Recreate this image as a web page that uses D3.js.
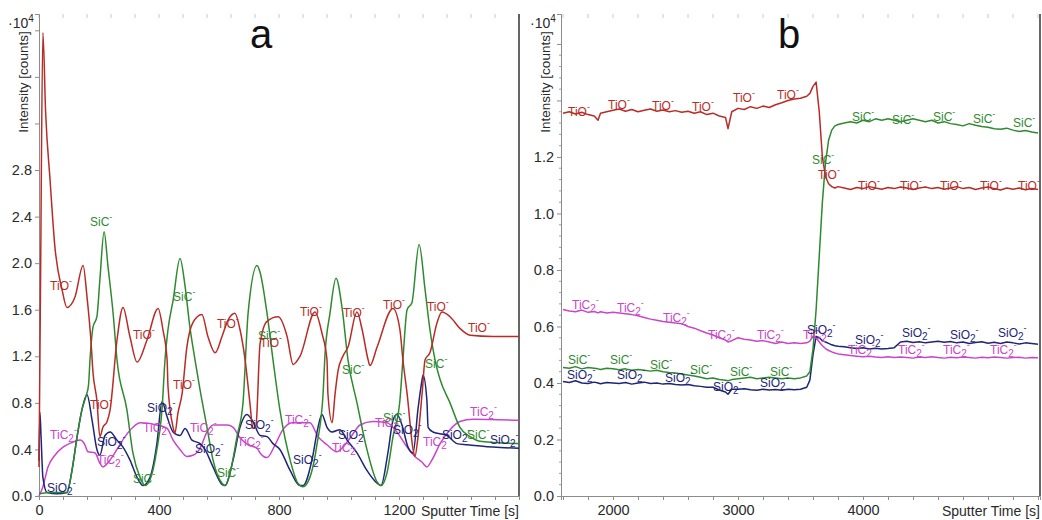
<!DOCTYPE html>
<html>
<head>
<meta charset="utf-8">
<script src="https://cdn.jsdelivr.net/npm/d3@7"></script>
<style>
  body { margin: 0; background: #fff; }
  svg { display: block; }
  text { font-family: Arial, "Liberation Sans", sans-serif; }
</style>
</head>
<body>
<svg id="chart" width="1042" height="520"></svg>
<script>
// ---------- Panel a: depth profile 0–1600 s (intensity in 10^4 counts) ----------
const tioA = [[0,0.25],[5,1.8],[13,3.98],[22,3.3],[37,2.71],[53,2.14],[77,1.77],[93,1.62],[120,1.71],[147,1.98],[160,1.71],[173,1.34],[180,1.06],[193,0.82],[203,0.51],[213,0.59],[227,0.64],[237,0.74],[260,1.34],[280,1.62],[303,1.37],[327,1.15],[360,1.34],[397,1.61],[413,1.43],[427,1.17],[430,0.94],[447,0.59],[453,0.54],[463,0.71],[477,0.88],[493,1.28],[513,1.49],[543,1.56],[563,1.37],[587,1.23],[610,1.37],[630,1.51],[653,1.57],[670,1.43],[687,1.17],[703,0.8],[713,0.58],[723,0.6],[737,1.31],[760,1.5],[797,1.54],[827,1.37],[847,1.13],[870,1.2],[920,1.58],[943,1.40],[960,1.17],[963,0.88],[977,0.63],[987,0.88],[997,1.08],[1013,1.2],[1030,1.28],[1060,1.58],[1077,1.43],[1097,1.17],[1103,1.12],[1127,1.28],[1180,1.61],[1203,1.43],[1213,1.17],[1227,0.88],[1247,0.40],[1253,0.34],[1263,0.5],[1277,0.88],[1287,1.17],[1303,1.23],[1327,1.49],[1343,1.58],[1370,1.54],[1403,1.44],[1437,1.38],[1513,1.37],[1600,1.37]];
const sicA = [[0,0.02],[40,0.03],[93,0.03],[110,0.22],[127,0.51],[143,0.74],[157,0.86],[165,0.95],[170,1.17],[180,1.45],[193,1.54],[203,1.86],[217,2.27],[230,1.97],[247,1.57],[260,1.17],[293,0.74],[313,0.37],[337,0.16],[353,0.09],[370,0.14],[393,0.40],[410,0.74],[420,1.17],[430,1.43],[447,1.68],[470,2.04],[487,1.80],[503,1.45],[520,1.17],[537,0.91],[560,0.59],[580,0.31],[610,0.11],[620,0.09],[637,0.2],[660,0.51],[680,0.80],[697,1.57],[727,1.98],[737,1.92],[760,1.57],[780,1.17],[803,0.74],[837,0.31],[863,0.11],[880,0.08],[903,0.16],[927,0.45],[947,0.88],[953,1.2],[970,1.57],[990,1.87],[1010,1.62],[1030,1.17],[1060,0.80],[1093,0.40],[1127,0.12],[1140,0.09],[1160,0.2],[1180,0.51],[1203,0.82],[1213,1.17],[1227,1.60],[1243,1.66],[1267,2.16],[1287,1.77],[1303,1.43],[1320,1.17],[1337,1.0],[1370,0.80],[1403,0.59],[1437,0.51],[1470,0.47],[1520,0.46],[1600,0.45]];
const sio2A = [[0,0.3],[3,0.72],[7,0.5],[13,0.16],[27,0.03],[60,0.02],[93,0.03],[110,0.22],[127,0.51],[143,0.74],[160,0.87],[177,0.65],[193,0.40],[203,0.35],[220,0.52],[237,0.55],[260,0.48],[280,0.42],[303,0.31],[327,0.16],[347,0.09],[370,0.16],[393,0.45],[410,0.81],[427,0.68],[447,0.55],[470,0.52],[487,0.58],[510,0.48],[537,0.45],[553,0.40],[580,0.25],[610,0.10],[620,0.09],[647,0.31],[670,0.59],[693,0.70],[713,0.64],[737,0.52],[760,0.51],[780,0.45],[803,0.40],[837,0.22],[870,0.09],[880,0.09],[910,0.31],[930,0.59],[943,0.70],[960,0.59],[977,0.55],[1003,0.57],[1027,0.48],[1060,0.37],[1093,0.22],[1127,0.11],[1140,0.09],[1163,0.37],[1180,0.65],[1193,0.70],[1210,0.61],[1230,0.42],[1247,0.37],[1263,0.74],[1277,1.0],[1280,1.04],[1293,0.82],[1297,0.59],[1313,0.55],[1360,0.52],[1393,0.45],[1427,0.44],[1513,0.42],[1600,0.41]];
const tic2A = [[0,0.0],[13,0.08],[30,0.25],[53,0.35],[80,0.42],[110,0.46],[137,0.48],[153,0.44],[163,0.38],[187,0.37],[203,0.28],[213,0.25],[237,0.31],[260,0.40],[287,0.51],[313,0.59],[337,0.63],[393,0.61],[427,0.58],[447,0.48],[470,0.40],[493,0.34],[513,0.35],[537,0.41],[560,0.55],[580,0.61],[627,0.61],[647,0.59],[670,0.50],[697,0.44],[727,0.41],[737,0.37],[760,0.33],[787,0.44],[813,0.57],[843,0.63],[903,0.63],[930,0.51],[960,0.44],[993,0.38],[1013,0.42],[1043,0.52],[1070,0.61],[1113,0.64],[1160,0.63],[1193,0.55],[1227,0.42],[1253,0.34],[1277,0.29],[1293,0.25],[1310,0.31],[1337,0.45],[1370,0.57],[1403,0.64],[1447,0.66],[1600,0.65]];

// ion tags written along the curves of panel a: [ion, time, intensity]
const labelsA = [
  ["TiO",37,1.80],["SiC",170,2.35],["TiO",313,1.38],["SiC",447,1.71],["TiO",593,1.48],
  ["SiC",730,1.37],["TiO",737,1.31],["TiO",870,1.58],["TiO",1013,1.57],["TiO",1147,1.64],
  ["TiO",1293,1.62],["TiO",1430,1.44],["SiC",1010,1.08],["SiC",1287,1.13],["TiO",447,0.95],
  ["TiO",170,0.78],["SiO2",360,0.76],["TiC2",37,0.52],["SiO2",193,0.46],["TiC2",193,0.31],
  ["SiC",313,0.15],["SiO2",27,0.07],["TiC2",347,0.58],["TiC2",503,0.58],["SiO2",520,0.40],
  ["SiC",593,0.20],["SiO2",687,0.61],["TiC2",660,0.46],["TiC2",820,0.65],["SiO2",847,0.31],
  ["TiC2",977,0.41],["SiO2",997,0.52],["TiC2",1120,0.63],["SiC",1147,0.67],["SiO2",1180,0.57],
  ["TiC2",1280,0.46],["SiO2",1343,0.52],["SiC",1427,0.52],["SiO2",1503,0.48],["TiC2",1437,0.72]
];

// ---------- Panel b: depth profile 1600–5400 s ----------
const timeB = [
  1600,1650,1700,1750,1800,1850,1880,1900,1950,2000,
  2050,2100,2150,2200,2250,2300,2350,2400,2450,2500,
  2550,2600,2650,2700,2750,2800,2850,2900,2920,2950,
  3000,3050,3100,3150,3200,3250,3300,3350,3400,3450,
  3500,3550,3575,3600,3625,3650,3675,3700,3725,3750,
  3775,3800,3850,3900,3950,4000,4050,4100,4150,4200,
  4250,4300,4350,4400,4450,4500,4550,4600,4650,4700,
  4750,4800,4850,4900,4950,5000,5050,5100,5150,5200,
  5250,5300,5350,5400
];
const tioB = [
  1.355,1.36,1.352,1.358,1.35,1.345,1.33,1.355,1.36,1.365,
  1.37,1.362,1.368,1.36,1.365,1.37,1.362,1.366,1.36,1.364,
  1.358,1.362,1.355,1.36,1.35,1.355,1.345,1.34,1.30,1.36,
  1.372,1.368,1.378,1.372,1.38,1.375,1.385,1.392,1.40,1.405,
  1.408,1.415,1.425,1.45,1.465,1.36,1.20,1.13,1.105,1.095,
  1.09,1.095,1.09,1.085,1.092,1.088,1.095,1.09,1.086,1.092,
  1.088,1.094,1.09,1.085,1.09,1.094,1.088,1.092,1.086,1.09,
  1.095,1.088,1.092,1.085,1.09,1.094,1.088,1.083,1.09,1.086,
  1.09,1.084,1.088,1.085
];
const sicB = [
  0.455,0.452,0.458,0.45,0.455,0.452,0.45,0.448,0.452,0.45,
  0.447,0.45,0.445,0.448,0.445,0.442,0.445,0.44,0.437,0.435,
  0.432,0.428,0.425,0.42,0.415,0.418,0.412,0.41,0.408,0.412,
  0.415,0.418,0.42,0.415,0.418,0.42,0.418,0.415,0.418,0.415,
  0.418,0.425,0.44,0.52,0.66,0.85,1.04,1.18,1.26,1.295,
  1.31,1.315,1.32,1.325,1.32,1.33,1.325,1.335,1.33,1.335,
  1.33,1.325,1.33,1.335,1.33,1.325,1.33,1.32,1.325,1.318,
  1.315,1.31,1.318,1.312,1.308,1.305,1.30,1.298,1.302,1.295,
  1.29,1.294,1.288,1.285
];
const sio2B = [
  0.405,0.402,0.408,0.40,0.398,0.403,0.40,0.397,0.402,0.40,
  0.398,0.402,0.396,0.40,0.403,0.398,0.40,0.396,0.398,0.395,
  0.393,0.395,0.39,0.388,0.385,0.385,0.375,0.368,0.36,0.378,
  0.378,0.38,0.376,0.374,0.378,0.375,0.377,0.374,0.378,0.376,
  0.378,0.385,0.41,0.50,0.565,0.56,0.55,0.545,0.54,0.535,
  0.532,0.53,0.528,0.525,0.522,0.525,0.52,0.523,0.52,0.522,
  0.525,0.545,0.548,0.543,0.546,0.542,0.545,0.548,0.544,0.547,
  0.542,0.545,0.54,0.543,0.546,0.541,0.544,0.54,0.545,0.542,
  0.538,0.542,0.54,0.537
];
const tic2B = [
  0.66,0.655,0.652,0.658,0.65,0.653,0.648,0.652,0.648,0.65,
  0.648,0.645,0.642,0.638,0.632,0.626,0.622,0.618,0.615,0.612,
  0.61,0.60,0.594,0.585,0.577,0.57,0.56,0.552,0.545,0.55,
  0.56,0.555,0.552,0.548,0.55,0.545,0.54,0.545,0.54,0.542,
  0.54,0.542,0.548,0.565,0.56,0.545,0.532,0.522,0.515,0.51,
  0.506,0.503,0.50,0.497,0.495,0.493,0.495,0.492,0.49,0.493,
  0.49,0.492,0.49,0.488,0.492,0.49,0.493,0.49,0.488,0.491,
  0.489,0.492,0.49,0.488,0.491,0.489,0.492,0.49,0.488,0.49,
  0.491,0.488,0.49,0.489
];

const labelsB = [
  ["TiO",1640,1.36],["TiO",1960,1.384],["TiO",2312,1.38],["TiO",2632,1.377],["TiO",2960,1.409],["TiO",3312,1.42],
  ["SiC",3912,1.342],["SiC",4232,1.331],["SiC",4560,1.342],["SiC",4880,1.335],["SiC",5200,1.32],
  ["SiC",3592,1.19],["TiO",3640,1.136],
  ["TiO",3960,1.097],["TiO",4296,1.097],["TiO",4616,1.097],["TiO",4936,1.097],["TiO",5240,1.097],
  ["TiC2",1672,0.676],["TiC2",2032,0.665],["TiC2",2400,0.63],["TiC2",2760,0.57],["TiC2",3152,0.57],
  ["SiC",1640,0.48],["SiC",1976,0.48],["SiC",2296,0.464],["SiC",2616,0.446],["SiC",2936,0.439],["SiC",3256,0.439],
  ["SiO2",1632,0.428],["SiO2",2032,0.428],["SiO2",2416,0.418],["SiO2",2800,0.386],["SiO2",3176,0.40],
  ["TiC2",3520,0.57],["SiO2",3552,0.588],
  ["SiO2",3936,0.552],["SiO2",4312,0.577],["SiO2",4696,0.57],["SiO2",5080,0.577],
  ["TiC2",3880,0.517],["TiC2",4280,0.517],["TiC2",4640,0.517],["TiC2",5016,0.517]
];

// ---------- styling ----------
const ionColor = { TiO: "#b82c27", SiC: "#2f8a2f", SiO2: "#1d2577", TiC2: "#c945c9" };
const ionText = { TiO: ["TiO", null], SiC: ["SiC", null], SiO2: ["SiO", "2"], TiC2: ["TiC", "2"] };

const svg = d3.select("#chart");

function ionLabel(g, x, y, ion) {
  const t = g.append("text")
    .attr("x", x).attr("y", y + 4)
    .attr("font-size", 12)
    .attr("fill", ionColor[ion]);
  const [base, sub] = ionText[ion];
  t.append("tspan").text(base);
  let down = 0;
  if (sub) { t.append("tspan").attr("dy", 3).attr("font-size", 10).text(sub); down = 3; }
  t.append("tspan").attr("dy", -6 - down).attr("font-size", 9).text("-");
}

function drawPanel(cfg) {
  const { x, y, series, labels, curve, xTicks, xLabelled, yTicks, yLabelMax, yMinor, letter, letterX } = cfg;
  const g = svg.append("g");
  const [x0, x1] = x.range();
  const [yb, yt] = y.range();

  // faint ticks along the top edge
  g.selectAll(".topTick").data(xTicks).enter().append("line")
    .attr("x1", d => x(d)).attr("x2", d => x(d))
    .attr("y1", yt).attr("y2", yt + 4)
    .attr("stroke", "#c8c8c8").attr("stroke-width", 1);

  // bottom axis
  const xAxis = g.append("g").attr("transform", `translate(0,${yb})`)
    .call(d3.axisBottom(x).tickValues(xTicks).tickSize(4).tickPadding(5)
      .tickFormat(d => xLabelled.includes(d) ? d : ""));
  xAxis.select(".domain").attr("stroke", "#8c8c8c");
  xAxis.selectAll(".tick line").attr("stroke", "#8c8c8c");
  xAxis.selectAll(".tick text").attr("font-size", 14.5).attr("fill", "#2a2a2a")
    .attr("font-family", "Arial, 'Liberation Sans', sans-serif");

  // left axis
  const yAxis = g.append("g").attr("transform", `translate(${x0},0)`)
    .call(d3.axisLeft(y).tickValues(yTicks).tickSize(4).tickPadding(3)
      .tickFormat(d => d <= yLabelMax + 1e-9 ? d3.format(".1f")(d) : ""));
  yAxis.select(".domain").attr("stroke", "#8c8c8c");
  yAxis.selectAll(".tick line").attr("stroke", "#8c8c8c");
  yAxis.selectAll(".tick text").attr("font-size", 14.5).attr("fill", "#2a2a2a")
    .attr("font-family", "Arial, 'Liberation Sans', sans-serif");
  g.selectAll(".yMinor").data(yMinor).enter().append("line")
    .attr("x1", x0 - 2).attr("x2", x0)
    .attr("y1", d => y(d)).attr("y2", d => y(d))
    .attr("stroke", "#a0a0a0");

  // right frame edge
  g.append("line").attr("x1", x1).attr("x2", x1).attr("y1", yt).attr("y2", yb)
    .attr("stroke", "#333").attr("stroke-width", 1.5);

  // curves
  const line = d3.line().x(d => x(d[0])).y(d => y(d[1])).curve(curve);
  series.forEach(s => {
    g.append("path").datum(s.data)
      .attr("d", line)
      .attr("fill", "none")
      .attr("stroke", ionColor[s.ion])
      .attr("stroke-width", 1.5)
      .attr("stroke-linejoin", "round");
  });

  // ion tags
  labels.forEach(([ion, t, v]) => ionLabel(g, x(t), y(v), ion));

  // exponent, axis titles, panel letter
  const exp = g.append("text").attr("x", x0 - 31).attr("y", yt + 14)
    .attr("font-size", 14).attr("fill", "#2a2a2a");
  exp.append("tspan").text("·10");
  exp.append("tspan").attr("dy", -6).attr("font-size", 10).text("4");

  g.append("text")
    .attr("transform", `translate(${x0 - 11},${yt + 68}) rotate(-90)`)
    .attr("text-anchor", "middle")
    .attr("font-size", 13.5).attr("fill", "#2a2a2a")
    .text("Intensity [counts]");

  g.append("text").attr("x", x1).attr("y", yb + 20)
    .attr("text-anchor", "end").attr("font-size", 14).attr("fill", "#2a2a2a")
    .text("Sputter Time [s]");

  g.append("text").attr("x", letterX).attr("y", 48)
    .attr("text-anchor", "middle").attr("font-size", 40).attr("fill", "#111")
    .text(letter);
}

// panel a
const xA = d3.scaleLinear().domain([0, 1600]).range([39, 519]);
const yA = d3.scaleLinear().domain([0, 4.14]).range([496, 14]);
drawPanel({
  x: xA, y: yA,
  series: [
    { ion: "TiC2", data: tic2A },
    { ion: "SiO2", data: sio2A },
    { ion: "SiC", data: sicA },
    { ion: "TiO", data: tioA }
  ],
  labels: labelsA,
  curve: d3.curveMonotoneX,
  xTicks: d3.range(0, 1601, 80),
  xLabelled: [0, 400, 800, 1200],
  yTicks: d3.range(0, 11).map(i => +(i * 0.4).toFixed(1)),
  yLabelMax: 2.8,
  yMinor: [],
  letter: "a", letterX: 261
});

// panel b
const xB = d3.scaleLinear().domain([1584, 5416]).range([561, 1040]);
const yB = d3.scaleLinear().domain([0, 1.706]).range([496, 14]);
const pairs = vals => timeB.map((t, i) => [t, vals[i]]);
drawPanel({
  x: xB, y: yB,
  series: [
    { ion: "TiC2", data: pairs(tic2B) },
    { ion: "SiO2", data: pairs(sio2B) },
    { ion: "SiC", data: pairs(sicB) },
    { ion: "TiO", data: pairs(tioB) }
  ],
  labels: labelsB,
  curve: d3.curveLinear,
  xTicks: d3.range(1600, 5401, 200),
  xLabelled: [2000, 3000, 4000],
  yTicks: d3.range(0, 9).map(i => +(i * 0.2).toFixed(1)),
  yLabelMax: 1.2,
  yMinor: d3.range(0, 41).map(i => +(i * 0.04).toFixed(2)).filter(v => Math.abs(v / 0.2 - Math.round(v / 0.2)) > 1e-6),
  letter: "b", letterX: 789
});
</script>
</body>
</html>
